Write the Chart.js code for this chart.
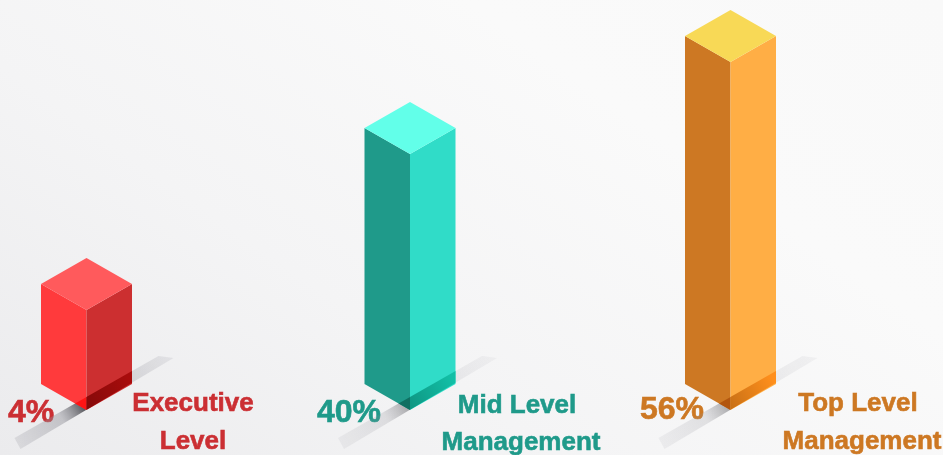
<!DOCTYPE html>
<html>
<head>
<meta charset="utf-8">
<style>
  html, body { margin: 0; padding: 0; width: 943px; height: 455px; overflow: hidden; }
  body { background: linear-gradient(35deg, #ebebed 0%, #f4f4f5 35%, #fafafa 70%, #f9f9f9 100%); }
  canvas { display: block; }
</style>
<script src="https://cdn.jsdelivr.net/npm/chart.js@4"></script>
</head>
<body>
<canvas id="isoChart" width="943" height="455"></canvas>
<script>
var categories = [['Executive', 'Level'], ['Mid Level', 'Management'], ['Top Level', 'Management']];
var percentLabels = ['4%', '40%', '56%'];
// drawn height of each column, the picture does not scale them by the percentages
var columnHeights = [100, 256, 348];

var leftColors = ['#ff3a3c', '#1f9a8a', '#cd7823'];
var rightColors = ['#cc2f30', '#30dcc8', '#ffae45'];
var topColors = ['#ff5a5c', '#62ffe9', '#f8d956'];
var textColors = ['#cb2f33', '#1f9a8a', '#cd7823'];
var leftOverlay = ['#ff1414', '#0f6f61', '#b2560f'];
var rightOverlay = ['#a80c0c', '#12bfa6', '#ff8f1c'];
var stripStrength = [0.55, 0.26, 0.26];

// small placement tweaks per column
var columnNudge = [-0.5, 1, -0.5];
var percentPlace = [[8, 422], [317, 422], [640, 419]];
var labelPlace = [
  [[193, 411], [193, 449]],
  [[517, 413], [521, 450]],
  [[858, 411], [862, 449]]
];

function poly(ctx, pts) {
  ctx.beginPath();
  ctx.moveTo(pts[0][0], pts[0][1]);
  for (var i = 1; i < pts.length; i++) {
    ctx.lineTo(pts[i][0], pts[i][1]);
  }
  ctx.closePath();
}

function fillPoly(ctx, pts, color) {
  poly(ctx, pts);
  ctx.fillStyle = color;
  ctx.fill();
}

function boldText(ctx, text, x, y, color) {
  ctx.fillStyle = color;
  ctx.strokeStyle = color;
  ctx.lineWidth = 0.6;
  ctx.fillText(text, x, y);
  ctx.strokeText(text, x, y);
}

var isoColumns = {
  id: 'isoColumns',
  afterDatasetsDraw: function (chart) {
    var ctx = chart.ctx;
    var bars = chart.getDatasetMeta(0).data;

    ctx.save();
    for (var i = 0; i < bars.length; i++) {
      var cx = bars[i].x + columnNudge[i];
      var top = bars[i].y;
      var base = bars[i].base;
      var half = bars[i].width / 2;
      var rise = 26;

      // the percentage sits under the floor strip
      ctx.font = 'bold 32px "Liberation Sans", Arial, sans-serif';
      ctx.textAlign = 'left';
      ctx.textBaseline = 'alphabetic';
      boldText(ctx, percentLabels[i], percentPlace[i][0], percentPlace[i][1], textColors[i]);

      // floor strip
      var strip = [[cx - 72, base + 28], [cx - 66, base + 39], [cx + 87, base - 52], [cx + 72, base - 54]];
      var a = stripStrength[i];
      var grad = ctx.createLinearGradient(cx - 70, base + 34, cx + 80, base - 53);
      grad.addColorStop(0, 'rgba(160,160,168,' + a * 0.45 + ')');
      grad.addColorStop(0.3, 'rgba(140,140,148,' + a * 0.8 + ')');
      grad.addColorStop(0.44, 'rgba(60,60,66,' + a * 1.5 + ')');
      grad.addColorStop(0.62, 'rgba(150,150,158,' + a * 0.7 + ')');
      grad.addColorStop(1, 'rgba(170,170,178,' + a * 0.4 + ')');
      fillPoly(ctx, strip, grad);

      // faces
      var leftFace = [[cx - half, top - rise], [cx, top], [cx, base], [cx - half, base - rise]];
      var rightFace = [[cx, top], [cx + half, top - rise], [cx + half, base - rise], [cx, base]];
      var topFace = [[cx, top - rise * 2], [cx + half, top - rise], [cx, top], [cx - half, top - rise]];
      fillPoly(ctx, leftFace, leftColors[i]);
      fillPoly(ctx, rightFace, rightColors[i]);
      fillPoly(ctx, topFace, topColors[i]);

      // strip showing through the bottom of the faces
      ctx.save();
      poly(ctx, leftFace);
      ctx.clip();
      fillPoly(ctx, strip, leftOverlay[i]);
      ctx.restore();

      ctx.save();
      poly(ctx, rightFace);
      ctx.clip();
      fillPoly(ctx, strip, rightOverlay[i]);
      var shade = ctx.createLinearGradient(cx, base, cx + half, base - rise);
      shade.addColorStop(0, 'rgba(0,0,0,0.22)');
      shade.addColorStop(1, 'rgba(0,0,0,0)');
      fillPoly(ctx, strip, shade);
      ctx.restore();

      // category label, two lines
      ctx.font = 'bold 26px "Liberation Sans", Arial, sans-serif';
      ctx.textAlign = 'center';
      for (var l = 0; l < categories[i].length; l++) {
        boldText(ctx, categories[i][l], labelPlace[i][l][0], labelPlace[i][l][1], textColors[i]);
      }
    }
    ctx.restore();
  }
};

new Chart(document.getElementById('isoChart').getContext('2d'), {
  type: 'bar',
  data: {
    labels: categories,
    datasets: [{
      data: columnHeights,
      backgroundColor: 'rgba(0,0,0,0)',
      barThickness: 91,
      clip: false
    }]
  },
  options: {
    responsive: false,
    animation: false,
    layout: { padding: { left: 87, right: 212, top: 0, bottom: 45 } },
    plugins: { legend: { display: false }, tooltip: { enabled: false } },
    scales: {
      x: { display: false, offset: false },
      y: { display: false, min: 0, max: 410 }
    }
  },
  plugins: [isoColumns]
});
</script>
</body>
</html>
